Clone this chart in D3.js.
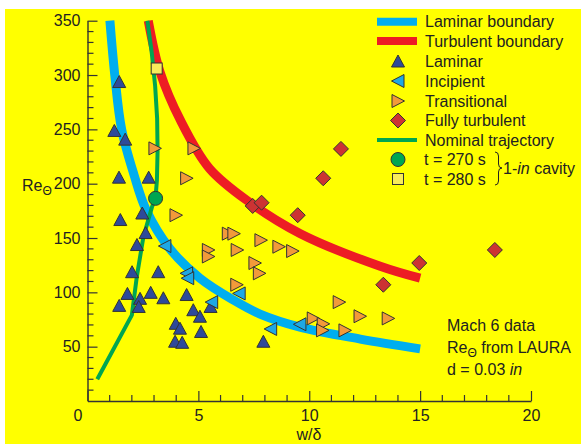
<!DOCTYPE html>
<html>
<head>
<meta charset="utf-8">
<script src="https://cdn.jsdelivr.net/npm/d3@7"></script>
<style>
  html, body { margin: 0; padding: 0; background: #ffffff; }
  svg { display: block; }
  text { font-family: "Liberation Sans", Arial, Helvetica, sans-serif; fill: #222; }
</style>
</head>
<body>
<svg id="chart" width="581" height="444"></svg>
<script>
// Boundary curves and trajectory: [w/δ, Re_θ]
const laminarBoundary = [[1.01,350],[1.24,298],[1.54,250],[2.1,208],[2.64,176],[3.72,140],[5.07,113],[6.57,93],[7.78,80],[9.58,68],[12.3,57],[15,48]];
const turbulentBoundary = [[2.74,350],[3.27,303],[4.2,258],[5.5,214],[7.3,183],[9.6,154],[13.2,124],[15,113]];
const nominalTrajectory = [[0.44,20],[2.0,79],[2.22,114],[2.52,151],[2.9,178],[3.07,188],[3.13,203],[3.16,230],[3.14,260],[3.05,290],[2.9,320],[2.70,350]];

// Measured states
const laminar = [[1.43,294],[1.21,249],[1.70,241],[1.42,206],[2.76,206],[2.47,173],[1.48,167],[2.62,155],[2.23,144],[2.01,119],[3.19,119],[1.80,99],[2.37,94.5],[2.85,100],[3.42,95],[1.43,88],[2.31,87],[4.47,98],[4.77,84],[5.07,78],[5.55,87],[3.98,71.5],[4.17,67],[5.12,64],[3.95,55],[4.27,54],[7.93,55]];
const incipient = [[3.49,142.6],[4.47,117.5],[4.52,113],[5.6,91],[6.84,99],[9.58,70.6],[8.26,66.3]];
const transitional = [[3.04,232.5],[4.8,232.5],[4.47,205],[3.99,171],[6.35,154],[6.6,154],[5.45,139],[5.45,133],[6.75,139],[7.82,148],[8.63,142],[9.25,138],[7.55,127],[7.75,117.5],[6.73,107],[11.35,91],[12.29,78],[13.56,76],[10.18,76],[10.63,71],[10.6,65],[11.61,65]];
const fullyTurbulent = [[11.43,232],[10.63,205],[7.45,179.5],[7.85,182.5],[9.48,171],[18.37,139],[14.96,127],[13.34,107]];
const cavity270 = [[3.07,186.5]];
const cavity280 = [[3.12,306]];

const xTicks = [0, 5, 10, 15, 20];
const yTicks = [50, 100, 150, 200, 250, 300, 350];

const C = {
  bg: "#ffff00", lamB: "#00aeef", turbB: "#ed1c24", traj: "#00a651",
  lam: "#2e4a9a", inc: "#1ea8e4", tra: "#f29a3a", ful: "#cc3333", sq: "#f8ec5a",
  ink: "#333333"
};

const svg = d3.select("#chart");
svg.append("rect").attr("x", 5).attr("y", 9).attr("width", 576).attr("height", 435).attr("fill", C.bg);

const x = d3.scaleLinear().domain([0, 20]).range([87.5, 531]);
const y = d3.scaleLinear().domain([0, 350]).range([401, 20.7]);

// Axes with inward ticks
const xAxis = svg.append("g").attr("transform", "translate(0,401)")
  .call(d3.axisBottom(x).tickValues(xTicks).tickSize(-10).tickSizeOuter(0).tickPadding(9));
const yAxis = svg.append("g").attr("transform", "translate(87.5,0)")
  .call(d3.axisLeft(y).tickValues(yTicks).tickSize(-10).tickSizeOuter(0).tickPadding(7));
[xAxis, yAxis].forEach(g => {
  g.select(".domain").attr("stroke", C.ink).attr("stroke-width", 1.4);
  g.selectAll(".tick line").attr("stroke", C.ink).attr("stroke-width", 1.2);
  g.selectAll(".tick text").attr("font-size", 16).attr("fill", "#222")
    .attr("font-family", '"Liberation Sans", Arial, sans-serif');
});
xAxis.selectAll(".tick text").filter(d => d === 0).attr("dx", -10);

// Minor ticks
svg.append("g").selectAll("line").data(d3.range(1, 20).filter(v => v % 5 !== 0)).join("line")
  .attr("x1", d => x(d)).attr("x2", d => x(d)).attr("y1", 401).attr("y2", 395)
  .attr("stroke", C.ink).attr("stroke-width", 1.2);
svg.append("g").selectAll("line").data(d3.range(10, 350, 10).filter(v => v % 50 !== 0)).join("line")
  .attr("x1", 87.5).attr("x2", 93.5).attr("y1", d => y(d)).attr("y2", d => y(d))
  .attr("stroke", C.ink).attr("stroke-width", 1.2);

// Axis titles
svg.append("text").attr("x", 309).attr("y", 440).attr("text-anchor", "middle").attr("font-size", 16).text("w/δ");
const yl = svg.append("text").attr("x", 22).attr("y", 191).attr("font-size", 16);
yl.append("tspan").text("Re");
yl.append("tspan").attr("font-size", 12).attr("dy", 4).text("Θ");

// Curves
const line = d3.line().x(d => x(d[0])).y(d => y(d[1]));
const smooth = d3.line().x(d => x(d[0])).y(d => y(d[1])).curve(d3.curveCatmullRom.alpha(0.5));
svg.append("path").datum(laminarBoundary).attr("d", smooth).attr("fill", "none")
  .attr("stroke", C.lamB).attr("stroke-width", 9);
svg.append("path").datum(turbulentBoundary).attr("d", smooth).attr("fill", "none")
  .attr("stroke", C.turbB).attr("stroke-width", 9);
svg.append("path").datum(nominalTrajectory).attr("d", line).attr("fill", "none")
  .attr("stroke", C.traj).attr("stroke-width", 4).attr("stroke-linejoin", "round");

// Marker shapes centred on their bounding box
const shapes = {
  up:    "M0,-6L6.5,6L-6.5,6Z",
  left:  "M-6.5,0L6,-6.5L6,6.5Z",
  right: "M6.5,0L-6,-6.5L-6,6.5Z",
  diamond: "M0,-7.5L7.5,0L0,7.5L-7.5,0Z"
};
function markers(data, shape, fill) {
  svg.append("g").selectAll("path").data(data).join("path")
    .attr("d", shapes[shape])
    .attr("transform", d => `translate(${x(d[0])},${y(d[1])})`)
    .attr("fill", fill).attr("stroke", C.ink).attr("stroke-width", 1);
}
markers(laminar, "up", C.lam);
markers(incipient, "left", C.inc);
markers(transitional, "right", C.tra);
markers(fullyTurbulent, "diamond", C.ful);

svg.append("g").selectAll("circle").data(cavity270).join("circle")
  .attr("cx", d => x(d[0])).attr("cy", d => y(d[1])).attr("r", 7)
  .attr("fill", C.traj).attr("stroke", C.ink).attr("stroke-width", 1);
svg.append("g").selectAll("rect").data(cavity280).join("rect")
  .attr("x", d => x(d[0]) - 5.5).attr("y", d => y(d[1]) - 5.5).attr("width", 11).attr("height", 11)
  .attr("fill", C.sq).attr("stroke", C.ink).attr("stroke-width", 1);

// Legend
const lg = svg.append("g");
const rows = [
  {t: "Laminar boundary", type: "band", c: C.lamB, w: 8, y: 21.7},
  {t: "Turbulent boundary", type: "band", c: C.turbB, w: 8, y: 41},
  {t: "Laminar", type: "up", c: C.lam, y: 61},
  {t: "Incipient", type: "left", c: C.inc, y: 81},
  {t: "Transitional", type: "right", c: C.tra, y: 101},
  {t: "Fully turbulent", type: "diamond", c: C.ful, y: 120.5},
  {t: "Nominal trajectory", type: "band", c: C.traj, w: 4, y: 140},
  {t: "t = 270 s", type: "circle", c: C.traj, y: 159.5},
  {t: "t = 280 s", type: "square", c: C.sq, y: 179}
];
rows.forEach(r => {
  if (r.type === "band") {
    lg.append("line").attr("x1", 377).attr("x2", 417).attr("y1", r.y).attr("y2", r.y)
      .attr("stroke", r.c).attr("stroke-width", r.w);
  } else if (r.type === "circle") {
    lg.append("circle").attr("cx", 398).attr("cy", r.y).attr("r", 7)
      .attr("fill", r.c).attr("stroke", C.ink).attr("stroke-width", 1);
  } else if (r.type === "square") {
    lg.append("rect").attr("x", 392.5).attr("y", r.y - 5.5).attr("width", 11).attr("height", 11)
      .attr("fill", r.c).attr("stroke", C.ink).attr("stroke-width", 1);
  } else {
    lg.append("path").attr("d", shapes[r.type]).attr("transform", `translate(398,${r.y})`)
      .attr("fill", r.c).attr("stroke", C.ink).attr("stroke-width", 1);
  }
  lg.append("text").attr("x", r.type === "circle" || r.type === "square" ? 424 : 425)
    .attr("y", r.y).attr("dy", "0.36em").attr("font-size", 16).text(r.t);
});
// Brace grouping the two cavity states
lg.append("path")
  .attr("d", "M495,152 Q498.5,152 498.5,156 L498.5,164 Q498.5,168 502,168 Q498.5,168 498.5,172 L498.5,181 Q498.5,185 495,185")
  .attr("fill", "none").attr("stroke", "#222").attr("stroke-width", 1);
const cav = lg.append("text").attr("x", 503).attr("y", 168).attr("dy", "0.36em").attr("font-size", 16);
cav.append("tspan").text("1-");
cav.append("tspan").attr("font-style", "italic").text("in");
cav.append("tspan").text(" cavity");

// Notes
const notes = svg.append("g").attr("font-size", 16);
notes.append("text").attr("x", 447).attr("y", 325).attr("dy", "0.36em").attr("font-size", 16).text("Mach 6 data");
const n2 = notes.append("text").attr("x", 447).attr("y", 347.5).attr("dy", "0.36em").attr("font-size", 16);
n2.append("tspan").text("Re");
n2.append("tspan").attr("font-size", 12).attr("dy", 4).text("Θ");
n2.append("tspan").attr("dy", -4).text(" from LAURA");
const n3 = notes.append("text").attr("x", 447).attr("y", 369).attr("dy", "0.36em").attr("font-size", 16);
n3.append("tspan").text("d = 0.03 ");
n3.append("tspan").attr("font-style", "italic").text("in");
</script>
</body>
</html>
